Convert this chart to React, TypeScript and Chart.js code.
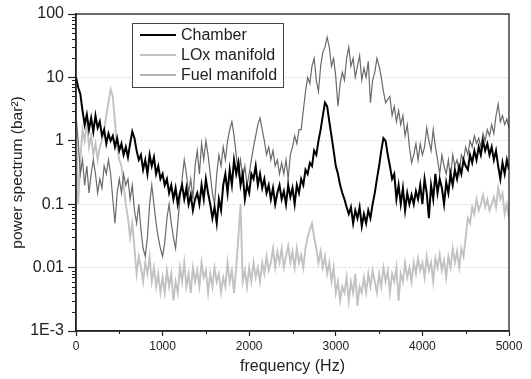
import React, { useEffect, useRef } from "react";
import { Chart, registerables } from "chart.js";

Chart.register(...registerables);

// Spectrum sampled every 25 Hz from 0 to 5000 Hz
const FREQ_STEP_HZ = 25;

const chamber = [
  10, 7, 5.5, 3, 1.8, 2.6, 1.5, 2.3, 1.4, 2.5,
  1.6, 2.0, 1.2, 1.5, 0.9, 1.3, 1.0, 1.2, 0.8, 1.1,
  0.7, 0.9, 0.6, 0.8, 0.55, 0.9, 1.4, 1.1, 0.7, 0.5,
  0.6, 0.35, 0.5, 0.3, 0.6, 0.4, 0.55, 0.3, 0.4, 0.25,
  0.3, 0.2, 0.25, 0.15, 0.2, 0.12, 0.18, 0.1, 0.15, 0.2,
  0.12, 0.18, 0.1, 0.14, 0.08, 0.12, 0.15, 0.1, 0.2, 0.12,
  0.25, 0.15, 0.1, 0.06, 0.09, 0.05, 0.12, 0.08, 0.2, 0.3,
  0.15, 0.35, 0.2, 0.5, 0.3, 0.45, 0.2, 0.3, 0.12, 0.2,
  0.15, 0.3, 0.25, 0.4, 0.2, 0.3, 0.18, 0.25, 0.15, 0.2,
  0.12, 0.18, 0.1, 0.15, 0.2, 0.12, 0.16, 0.1, 0.2, 0.13,
  0.18, 0.1, 0.2, 0.15, 0.25, 0.2, 0.35, 0.3, 0.45, 0.4,
  0.7, 0.6, 1.0, 1.5, 2.5, 4.0, 3.5, 2.0, 1.2, 0.7,
  0.4, 0.3, 0.2, 0.15, 0.12, 0.09, 0.07, 0.09, 0.05, 0.08,
  0.06, 0.09, 0.045, 0.07, 0.05, 0.08, 0.06, 0.1, 0.15, 0.25,
  0.4, 0.7, 1.1, 1.0, 0.6, 0.4, 0.25, 0.3, 0.12, 0.2,
  0.1, 0.18, 0.08, 0.15, 0.1, 0.14, 0.1, 0.16, 0.12, 0.2,
  0.1, 0.25, 0.15, 0.06, 0.2, 0.12, 0.3, 0.15, 0.25, 0.18,
  0.1, 0.22, 0.15, 0.3, 0.2, 0.35, 0.25, 0.4, 0.3, 0.5,
  0.4, 0.35, 0.6, 0.45, 0.7, 0.5, 0.8, 0.6, 1.0, 0.7,
  0.9, 0.6, 0.8, 0.5, 0.7, 0.4, 0.25, 0.45, 0.3, 0.5,
  0.35,
];

const loxManifold = [
  2.0, 0.1, 0.5, 1.5, 1.0, 2.0, 0.8, 1.2, 0.6, 0.9,
  0.5, 0.8, 1.0, 1.5, 2.5, 4, 6.5, 5, 2, 0.8,
  0.5, 0.4, 0.2, 0.1, 0.06, 0.03, 0.05, 0.02, 0.008, 0.015,
  0.01, 0.006, 0.012, 0.008, 0.015, 0.006, 0.01, 0.005, 0.008, 0.004,
  0.007, 0.004, 0.009, 0.005, 0.008, 0.003, 0.006, 0.004, 0.01, 0.006,
  0.012, 0.005, 0.008, 0.004, 0.01, 0.006, 0.009, 0.005, 0.012, 0.007,
  0.009, 0.004, 0.008, 0.005, 0.01, 0.006, 0.008, 0.004, 0.007, 0.005,
  0.012, 0.006, 0.009, 0.004, 0.01, 0.03, 0.1, 0.006, 0.009, 0.005,
  0.01, 0.006, 0.012, 0.007, 0.01, 0.006, 0.012, 0.008, 0.015, 0.009,
  0.012, 0.02, 0.01, 0.018, 0.012, 0.02, 0.01, 0.015, 0.022, 0.012,
  0.018, 0.01, 0.02, 0.012, 0.016, 0.01, 0.02, 0.03, 0.04, 0.05,
  0.03, 0.02, 0.012, 0.018, 0.01, 0.015, 0.008, 0.012, 0.006, 0.01,
  0.004, 0.006, 0.003, 0.005, 0.004, 0.007, 0.003, 0.006, 0.004, 0.008,
  0.0025, 0.005, 0.004, 0.007, 0.004, 0.008, 0.005, 0.009, 0.006, 0.004,
  0.008, 0.005, 0.01, 0.006, 0.009, 0.004, 0.008, 0.006, 0.01, 0.003,
  0.008, 0.006, 0.012, 0.007, 0.01, 0.006, 0.012, 0.008, 0.014, 0.009,
  0.012, 0.007, 0.015, 0.009, 0.012, 0.006, 0.014, 0.01, 0.016, 0.009,
  0.013, 0.007, 0.015, 0.01, 0.02, 0.012, 0.018, 0.01, 0.02, 0.015,
  0.03, 0.06, 0.05, 0.09, 0.07, 0.12, 0.08, 0.1, 0.14, 0.09,
  0.12, 0.08, 0.1, 0.13, 0.09, 0.18, 0.12, 0.15, 0.07, 0.1,
  0.06,
];

const fuelManifold = [
  2.5, 1.0, 0.3, 0.5, 0.2, 0.4, 0.15, 0.3, 0.5, 0.3,
  0.15, 0.25, 0.18, 0.4, 0.3, 0.5, 0.3, 0.12, 0.05, 0.15,
  0.25, 0.15, 0.3, 0.2, 0.25, 0.12, 0.2, 0.08, 0.05, 0.1,
  0.04, 0.02, 0.015, 0.03, 0.1, 0.2, 0.1, 0.05, 0.03, 0.02,
  0.015, 0.025, 0.06, 0.1, 0.05, 0.03, 0.02, 0.05, 0.12, 0.25,
  0.5, 0.3, 0.15, 0.25, 0.12, 0.4, 0.7, 0.3, 0.9, 0.5,
  1.0, 0.6, 0.3, 0.15, 0.1, 0.3, 0.6, 0.4, 0.8, 0.5,
  1.0, 1.5, 2.0, 1.2, 0.6, 0.3, 0.5, 0.25, 0.4, 0.2,
  0.3, 0.5, 0.8, 1.2, 1.8, 2.3, 1.5, 1.0, 0.6, 0.8,
  0.5, 0.7, 0.4, 0.5, 0.3, 0.45, 0.3, 0.5, 0.25, 0.6,
  0.8, 1.2, 0.9, 1.5, 1.5, 3, 6, 10, 8, 15,
  20, 9, 6, 15, 25, 30, 43, 30, 15, 20,
  10, 3.5, 8, 12, 9, 20, 30, 15, 20, 10,
  15, 22, 9, 14, 10, 18, 4, 9, 12, 20,
  15, 10, 6, 4, 4.5, 5, 2.5, 3.5, 2, 3,
  1.8, 2.5, 1.2, 1.8, 0.8, 0.45, 0.6, 0.9, 0.5, 0.9,
  0.6, 0.8, 1.6, 1.0, 0.7, 1.5, 0.8, 0.5, 0.3, 0.6,
  0.4, 0.3, 0.5, 0.25, 0.6, 0.4, 0.5, 0.3, 0.6, 0.5,
  0.8, 0.6, 1.0, 0.8, 1.2, 0.9, 1.1, 0.8, 1.3, 1.0,
  1.5, 1.2, 1.8, 1.3, 2.5, 3.8, 2.0, 2.5, 1.8, 2.2,
  1.6,
];

const seriesLabels = ["Chamber", "LOx manifold", "Fuel manifold"];
const seriesColors = ["#000000", "#c2c2c2", "#6a6a6a"];
const seriesWidths = [2, 1.9, 1.2];

const yTickValues = [0.001, 0.01, 0.1, 1, 10, 100];
const yTickLabels = ["1E-3", "0.01", "0.1", "1", "10", "100"];
const xMinorTicks = [500, 1500, 2500, 3500, 4500];

const FONT = "'Liberation Sans', Arial, Helvetica, sans-serif";

const decorPlugin = {
  id: "decor",
  afterDraw(chart: any) {
    const { ctx, chartArea: a } = chart;
    const ys = chart.scales.y;
    const xs = chart.scales.x;
    ctx.save();
    // frame
    ctx.strokeStyle = "#222";
    ctx.lineWidth = 1.3;
    ctx.strokeRect(a.left, a.top, a.right - a.left, a.bottom - a.top);
    // minor ticks
    ctx.lineWidth = 1;
    ctx.beginPath();
    for (let e = -3; e <= 1; e++) {
      for (let k = 2; k <= 9; k++) {
        const y = Math.round(ys.getPixelForValue(k * Math.pow(10, e))) + 0.5;
        ctx.moveTo(a.left - 4, y);
        ctx.lineTo(a.left, y);
      }
    }
    for (const v of xMinorTicks) {
      const x = Math.round(xs.getPixelForValue(v)) + 0.5;
      ctx.moveTo(x, a.bottom);
      ctx.lineTo(x, a.bottom + 3);
    }
    ctx.stroke();

    // legend box
    const bx = 132.5, by = 23.5, bw = 151, bh = 64;
    ctx.fillStyle = "#ffffff";
    ctx.fillRect(bx, by, bw, bh);
    ctx.strokeStyle = "#444";
    ctx.lineWidth = 1;
    ctx.strokeRect(bx, by, bw, bh);
    ctx.font = `16px ${FONT}`;
    ctx.textBaseline = "middle";
    ctx.textAlign = "left";
    chart.data.datasets.forEach((ds: any, i: number) => {
      const y = 35 + i * 20;
      ctx.strokeStyle = ds.borderColor;
      ctx.lineWidth = ds.borderWidth;
      ctx.beginPath();
      ctx.moveTo(140, y);
      ctx.lineTo(176, y);
      ctx.stroke();
      ctx.fillStyle = "#222";
      ctx.fillText(ds.label, 181, y + 1);
    });
    ctx.restore();
  },
};

export default function App() {
  const canvasRef = useRef<HTMLCanvasElement | null>(null);

  useEffect(() => {
    document.body.style.margin = "0";
    const canvas = canvasRef.current;
    if (!canvas) return;
    const series = [chamber, loxManifold, fuelManifold];
    const datasets = series.map((vals, s) => ({
      label: seriesLabels[s],
      data: vals.map((v, i) => ({ x: i * FREQ_STEP_HZ, y: v })),
      borderColor: seriesColors[s],
      backgroundColor: seriesColors[s],
      borderWidth: seriesWidths[s],
      pointRadius: 0,
      tension: 0,
      fill: false,
      order: s === 0 ? 0 : s === 2 ? 1 : 2,
    }));

    const chart = new Chart(canvas, {
      type: "line",
      data: { datasets },
      options: {
        responsive: false,
        animation: false,
        devicePixelRatio: 1,
        layout: { padding: { top: 14, right: 22, left: 0, bottom: 0 } },
        plugins: { legend: { display: false }, tooltip: { enabled: false } },
        scales: {
          x: {
            type: "linear",
            min: 0,
            max: 5000,
            afterFit: (s: any) => {
              s.height = 48;
            },
            ticks: {
              stepSize: 1000,
              callback: (v: any) => String(v),
              color: "#222",
              font: { family: FONT, size: 12 },
              padding: 3,
              maxRotation: 0,
              autoSkip: false,
            },
            grid: {
              drawOnChartArea: false,
              tickLength: 5,
              tickColor: "#222",
              tickWidth: 1.2,
            },
            border: { color: "#222", width: 1.5 },
            title: {
              display: true,
              text: "frequency (Hz)",
              color: "#222",
              font: { family: FONT, size: 16 },
              padding: { top: 0, bottom: 3 },
            },
          },
          y: {
            type: "logarithmic",
            min: 0.001,
            max: 100,
            afterFit: (s: any) => {
              s.width = 76;
            },
            afterBuildTicks: (s: any) => {
              s.ticks = yTickValues.map((v) => ({ value: v, major: true }));
            },
            ticks: {
              callback: (v: any) => {
                const idx = yTickValues.indexOf(Number(v));
                return idx >= 0 ? yTickLabels[idx] : "";
              },
              color: "#222",
              font: { family: FONT, size: 16 },
              padding: 4,
              autoSkip: false,
            },
            grid: {
              color: "#d6d6d6",
              lineWidth: 1,
              tickLength: 8,
              tickColor: "#222",
              tickWidth: 1.2,
            },
            border: { color: "#222", width: 1.5, dash: [2, 2] },
            title: {
              display: true,
              text: "power spectrum (bar²)",
              color: "#222",
              font: { family: FONT, size: 15.5 },
              padding: { top: 8, bottom: 0 },
            },
          },
        },
      },
      plugins: [decorPlugin],
    } as any);

    return () => {
      chart.destroy();
    };
  }, []);

  return (
    <div style={{ width: 531, height: 379 }}>
      <canvas ref={canvasRef} width={531} height={379} style={{ display: "block" }} />
    </div>
  );
}
